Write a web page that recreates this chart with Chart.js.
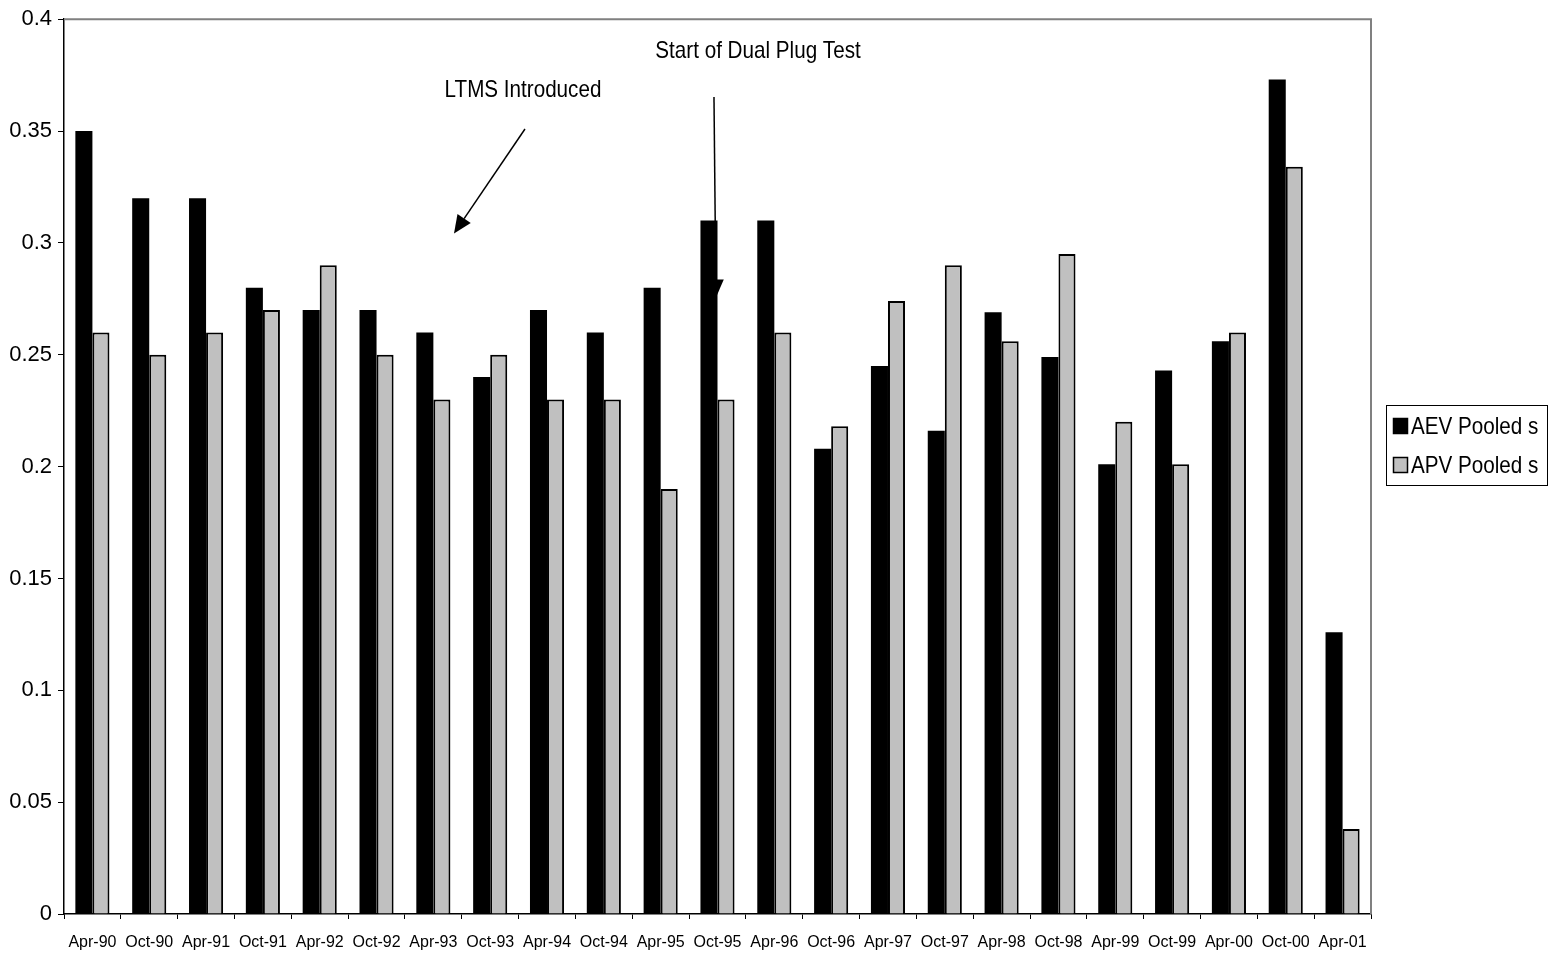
<!DOCTYPE html>
<html>
<head>
<meta charset="utf-8">
<script src="https://cdn.jsdelivr.net/npm/chart.js@4/dist/chart.umd.min.js"></script>
<style>
  html, body { margin: 0; padding: 0; background: #ffffff; }
  #wrap { width: 1557px; height: 959px; position: relative; }
</style>
</head>
<body>
<div id="wrap"><canvas id="chart"></canvas></div>
<script>
// Survey periods
const categories = ['Apr-90','Oct-90','Apr-91','Oct-91','Apr-92','Oct-92','Apr-93','Oct-93',
  'Apr-94','Oct-94','Apr-95','Oct-95','Apr-96','Oct-96','Apr-97','Oct-97','Apr-98','Oct-98',
  'Apr-99','Oct-99','Apr-00','Oct-00','Apr-01'];

// Pooled standard deviations per period
const aevPooled = [0.35, 0.32, 0.32, 0.28, 0.27, 0.27, 0.26, 0.24, 0.27, 0.26, 0.28, 0.31,
  0.31, 0.208, 0.245, 0.216, 0.269, 0.249, 0.201, 0.243, 0.256, 0.373, 0.126];
const apvPooled = [0.26, 0.25, 0.26, 0.27, 0.29, 0.25, 0.23, 0.25, 0.23, 0.23, 0.19, 0.23,
  0.26, 0.218, 0.274, 0.29, 0.256, 0.295, 0.22, 0.201, 0.26, 0.334, 0.038];

const seriesNames = ['AEV Pooled s', 'APV Pooled s'];

// Value axis ticks
const yTickValues = [0, 0.05, 0.1, 0.15, 0.2, 0.25, 0.3, 0.35, 0.4];
const yTickLabels = ['0', '0.05', '0.1', '0.15', '0.2', '0.25', '0.3', '0.35', '0.4'];

// Callouts, placed in axis units (category index, value)
const callouts = [
  { text: 'LTMS Introduced', at: [7.577, 0.3652], from: [7.612, 0.3509], to: [6.363, 0.3042] },
  { text: 'Start of Dual Plug Test', at: [11.713, 0.3826], from: [10.938, 0.3652], to: [10.973, 0.2756] }
];

const FONT = "'Liberation Sans', Arial, Helvetica, sans-serif";

function drawNarrowText(ctx, text, x, y, size, align) {
  const sx = 0.86;
  ctx.save();
  ctx.font = size + 'px ' + FONT;
  ctx.fillStyle = '#000';
  ctx.textBaseline = 'alphabetic';
  const w = ctx.measureText(text).width * sx;
  let left = x;
  if (align === 'center') left = x - w / 2;
  ctx.translate(left, y);
  ctx.scale(sx, 1);
  ctx.textAlign = 'left';
  ctx.fillText(text, 0, 0);
  ctx.restore();
}

const framePlugin = {
  id: 'frame',
  beforeDatasetsDraw(chart) {
    const { ctx, chartArea: a } = chart;
    ctx.save();
    ctx.strokeStyle = '#808080';
    ctx.lineWidth = 2;
    ctx.beginPath();
    ctx.moveTo(a.left, a.top);
    ctx.lineTo(a.right, a.top);
    ctx.lineTo(a.right, a.bottom);
    ctx.stroke();
    ctx.restore();
  }
};

const calloutPlugin = {
  id: 'callouts',
  afterDatasetsDraw(chart) {
    const { ctx, scales: { x, y } } = chart;
    callouts.forEach(c => {
      drawNarrowText(ctx, c.text, x.getPixelForValue(c.at[0]), y.getPixelForValue(c.at[1]), 24, 'center');
      const x1 = x.getPixelForValue(c.from[0]), y1 = y.getPixelForValue(c.from[1]);
      const x2 = x.getPixelForValue(c.to[0]), y2 = y.getPixelForValue(c.to[1]);
      const ang = Math.atan2(y2 - y1, x2 - x1);
      const headLen = 18, headHalf = 8;
      const bx = x2 - headLen * Math.cos(ang), by = y2 - headLen * Math.sin(ang);
      ctx.save();
      ctx.strokeStyle = '#000';
      ctx.fillStyle = '#000';
      ctx.lineWidth = 1.5;
      ctx.beginPath();
      ctx.moveTo(x1, y1);
      ctx.lineTo(bx, by);
      ctx.stroke();
      ctx.beginPath();
      ctx.moveTo(x2, y2);
      ctx.lineTo(bx + headHalf * Math.sin(ang), by - headHalf * Math.cos(ang));
      ctx.lineTo(bx - headHalf * Math.sin(ang), by + headHalf * Math.cos(ang));
      ctx.closePath();
      ctx.fill();
      ctx.restore();
    });
  }
};

const legendPlugin = {
  id: 'boxLegend',
  afterDraw(chart) {
    const { ctx } = chart;
    const left = 1386, top = 405, w = 161, h = 80;
    ctx.save();
    ctx.strokeStyle = '#000';
    ctx.lineWidth = 1;
    ctx.strokeRect(left + 0.5, top + 0.5, w, h);
    chart.data.datasets.forEach((ds, i) => {
      const sy = top + 13 + i * 39;
      ctx.fillStyle = ds.backgroundColor;
      ctx.fillRect(left + 7, sy, 15, 16);
      ctx.strokeStyle = '#000';
      ctx.lineWidth = 1.5;
      ctx.strokeRect(left + 7.5, sy + 0.5, 14, 15);
      drawNarrowText(ctx, ds.label, left + 25, sy + 16, 24, 'left');
    });
    ctx.restore();
  }
};

new Chart(document.getElementById('chart'), {
  type: 'bar',
  data: {
    labels: categories,
    datasets: [
      { label: seriesNames[0], data: aevPooled, backgroundColor: '#000000', borderWidth: 0 },
      { label: seriesNames[1], data: apvPooled, backgroundColor: '#C0C0C0',
        borderColor: '#000000', borderWidth: 2 }
    ]
  },
  options: {
    responsive: true,
    maintainAspectRatio: false,
    animation: false,
    devicePixelRatio: 1,
    layout: { padding: { top: 17, right: 186, bottom: 0, left: 0 } },
    datasets: { bar: { categoryPercentage: 0.6, barPercentage: 1.0 } },
    plugins: { legend: { display: false }, tooltip: { enabled: false } },
    scales: {
      x: {
        offset: true,
        grid: { offset: true, drawOnChartArea: false, drawTicks: true, tickLength: 5,
                tickColor: '#000', color: '#000' },
        border: { color: '#000', width: 1.5 },
        ticks: { color: '#000', font: { family: FONT, size: 16 }, maxRotation: 0,
                 autoSkip: false, padding: 14 },
        afterFit(s) { s.height = 45; }
      },
      y: {
        min: 0, max: 0.4,
        afterBuildTicks(s) { s.ticks = yTickValues.map(v => ({ value: v })); },
        grid: { drawOnChartArea: false, drawTicks: true, tickLength: 6, tickColor: '#000' },
        border: { color: '#000', width: 1.5 },
        ticks: {
          color: '#000', font: { family: FONT, size: 22 }, padding: 6,
          callback(v) {
            const i = yTickValues.findIndex(t => Math.abs(t - v) < 1e-9);
            return i >= 0 ? yTickLabels[i] : '';
          }
        },
        afterFit(s) { s.width = 64; }
      }
    }
  },
  plugins: [framePlugin, calloutPlugin, legendPlugin]
});
</script>
</body>
</html>
